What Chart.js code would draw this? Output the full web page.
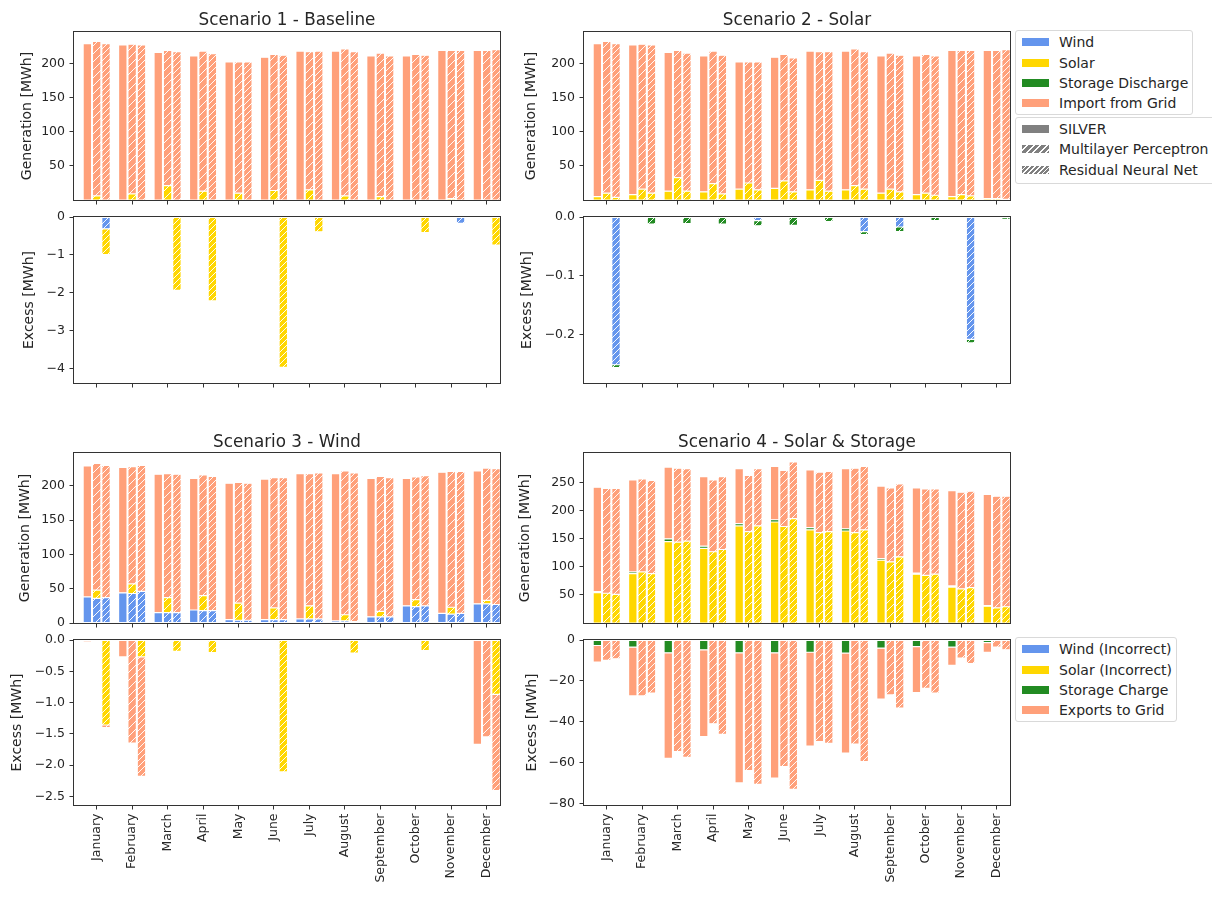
<!DOCTYPE html>
<html>
<head>
<meta charset="utf-8">
<script src="https://cdn.jsdelivr.net/npm/chart.js@4.4.1/dist/chart.umd.min.js"></script>
<style>
  html, body { margin: 0; padding: 0; background: #fff; }
  body { width: 1212px; height: 897px; position: relative; overflow: hidden;
         font-family: 'DejaVu Sans', sans-serif; color: #262626; }
  canvas { position: absolute; }
  .title { position: absolute; width: 426px; text-align: center; font-size: 16.8px; line-height: 20px; }
  .legend { position: absolute; border: 1px solid #d9d9d9; border-radius: 3px;
            background: rgba(255,255,255,0.85); box-sizing: border-box; }
  .item { position: absolute; left: 0; height: 20px; width: 100%; }
  .sw { position: absolute; left: 6px; top: 6px; width: 27px; height: 8px; }
  .lab { position: absolute; left: 43px; top: 0; line-height: 20px; font-size: 14px; white-space: nowrap; }
</style>
</head>
<body>
<script>
// ---- data ----
const months = ['January', 'February', 'March', 'April', 'May', 'June',
  'July', 'August', 'September', 'October', 'November', 'December'];
const titles = ['Scenario 1 - Baseline', 'Scenario 2 - Solar', 'Scenario 3 - Wind', 'Scenario 4 - Solar & Storage'];
const genLegend = ['Wind', 'Solar', 'Storage Discharge', 'Import from Grid'];
const excessLegend = ['Wind (Incorrect)', 'Solar (Incorrect)', 'Storage Charge', 'Exports to Grid'];
const modelLegend = ['SILVER', 'Multilayer Perceptron', 'Residual Neural Net'];

const genTicks = [50, 100, 150, 200];
const genTicks3 = [0, 50, 100, 150, 200];
const genTicks4 = [50, 100, 150, 200, 250];
const exTicks1 = [0, -1, -2, -3, -4];
const exTicks2 = [0, -0.1, -0.2];
const exTicks3 = [0, -0.5, -1, -1.5, -2, -2.5];
const exTicks4 = [0, -20, -40, -60, -80];

// Scenario 1 - Baseline (MWh)
const s1SilverImport = [230, 228, 217, 212, 203, 210, 219, 219, 212, 212, 220, 220];
const s1MlpSolar = [6, 9, 21, 13, 10, 14, 15, 6, 5, 0, 2, 0];
const s1MlpImport = [227, 220, 199, 206, 193, 200, 203, 216, 211, 214, 218, 220];
const s1ResImport = [230, 228, 218, 215, 203, 213, 219, 218, 212, 213, 220, 221];
const s1ResWindEx = [-0.31, 0, 0, 0, 0, 0, 0, 0, 0, 0, -0.17, 0];
const s1ResSolarEx = [-0.68, 0, -1.93, -2.21, -0.02, -3.96, -0.39, 0, 0, -0.41, 0, -0.74];

// Scenario 2 - Solar
const s2SilverSolar = [5, 8, 13, 12, 16, 17, 15, 15, 10, 8, 5, 2];
const s2SilverImport = [225, 220, 204, 200, 187, 193, 204, 204, 202, 204, 215, 218];
const s2MlpSolar = [10, 16, 33, 24, 25, 28, 29, 21, 16, 10, 8, 2];
const s2MlpImport = [223, 213, 187, 195, 178, 186, 189, 201, 200, 204, 212, 218];
const s2ResSolar = [4, 10, 13, 9, 15, 12, 13, 16, 12, 7, 6, 1];
const s2ResImport = [226, 218, 203, 204, 188, 197, 205, 202, 201, 205, 214, 220];
const s2ResWindEx = [-0.251, 0, 0, 0, -0.006, 0, 0, -0.025, -0.017, 0, -0.208, 0];
const s2ResStorageEx = [-0.005, -0.012, -0.011, -0.012, -0.009, -0.014, -0.008, -0.005, -0.008, -0.006, -0.006, -0.004];

// Scenario 3 - Wind
const s3SilverWind = [38, 44, 15, 19, 5, 5, 6, 3, 9, 25, 14, 28];
const s3SilverImport = [191, 183, 202, 192, 199, 205, 212, 215, 202, 186, 206, 194];
const s3MlpWind = [36, 43, 15, 18, 4, 5, 6, 3, 9, 24, 13, 28];
const s3MlpSolar = [12, 14, 22, 22, 25, 17, 19, 9, 8, 10, 10, 5];
const s3MlpImport = [185, 171, 181, 176, 176, 190, 193, 210, 197, 179, 198, 193];
const s3ResWind = [37, 46, 15, 18, 4, 5, 6, 2, 9, 25, 14, 27];
const s3ResImport = [193, 184, 202, 196, 200, 207, 213, 217, 203, 190, 207, 198];
const s3SilverExport = [-0.03, -0.27, 0, 0, 0, 0, 0, 0, 0, 0, 0, -1.67];
const s3MlpExport = [0, -1.65, 0, 0, 0, 0, 0, 0, 0, 0, 0, -1.55];
const s3ResSolarEx = [-1.36, -0.27, -0.18, -0.2, -0.02, -2.11, 0, -0.21, 0, -0.17, 0, -0.87];
const s3ResExport = [-0.04, -1.91, 0, 0, 0, 0, 0, 0, 0, 0, 0, -1.54];

// Scenario 4 - Solar & Storage
const s4SilverSolar = [54, 88, 145, 133, 173, 180, 166, 164, 112, 87, 64, 30];
const s4SilverStorage = [2, 3, 5, 4, 4, 4, 4, 4, 3, 2, 2, 1];
const s4SilverImport = [186, 164, 128, 124, 98, 95, 103, 107, 129, 152, 170, 198];
const s4MlpSolar = [53, 91, 144, 127, 163, 172, 161, 161, 109, 85, 61, 27];
const s4MlpImport = [187, 166, 132, 128, 100, 100, 108, 115, 132, 154, 172, 199];
const s4ResSolar = [51, 88, 146, 131, 173, 186, 163, 166, 118, 87, 63, 29];
const s4ResImport = [189, 166, 129, 130, 102, 101, 107, 113, 130, 152, 172, 197];
const s4SilverStorageEx = [-2.7, -3.5, -6.3, -4.8, -6.3, -6.3, -6, -6.4, -4, -3.2, -3.5, -1.3];
const s4SilverExport = [-8.1, -23.9, -51.7, -42.5, -63.7, -61.3, -45.9, -49, -25, -22.6, -8.9, -4.7];
const s4MlpExport = [-10, -27.4, -54.7, -41, -63.9, -62, -49.8, -51, -26.9, -23.7, -8.9, -3.5];
const s4ResExport = [-9.2, -26, -57.5, -46.2, -70.7, -73.1, -50.6, -59.6, -33.3, -26, -11.6, -4.8];

// ---- styling ----
const colors = ['#6495ED', '#FFD700', '#228B22', '#FFA07A'];
const modelKeys = ['silver', 'mlp', 'res'];
const hatchStep = [0, 8, 6];
const PAD_T = 8, PAD_R = 4;
const ink = '#262626';

Chart.defaults.font.family = "'DejaVu Sans', sans-serif";
Chart.defaults.color = ink;

function hatch(ctx, color, step) {
  const c = document.createElement('canvas');
  c.width = c.height = step;
  const g = c.getContext('2d');
  g.fillStyle = color;
  g.fillRect(0, 0, step, step);
  g.strokeStyle = 'rgba(255,255,255,0.95)';
  g.lineWidth = 1;
  g.beginPath();
  g.moveTo(0, step); g.lineTo(step, 0);
  g.moveTo(-1, 1); g.lineTo(1, -1);
  g.moveTo(step - 1, step + 1); g.lineTo(step + 1, step - 1);
  g.stroke();
  return ctx.createPattern(c, 'repeat');
}

const frame = {
  id: 'frame',
  afterDraw(chart) {
    const a = chart.chartArea, ctx = chart.ctx;
    ctx.save();
    ctx.strokeStyle = '#333';
    ctx.lineWidth = 1;
    ctx.strokeRect(Math.round(a.left) - 0.5, Math.round(a.top) - 0.5,
      Math.round(a.right - a.left) + 1, Math.round(a.bottom - a.top) + 1);
    ctx.restore();
  }
};

function fmt(dec) {
  return v => (v < 0 ? '\u2212' : '') + Math.abs(v).toFixed(dec);
}

function panel(p) {
  const cv = document.createElement('canvas');
  const left = p.labelX - 8;
  const yW = p.box[0] - left;
  const plotW = p.box[2] - p.box[0];
  const plotH = p.box[3] - p.box[1];
  cv.width = yW + plotW + PAD_R;
  cv.height = PAD_T + plotH + p.xH;
  cv.style.left = left + 'px';
  cv.style.top = (p.box[1] - PAD_T) + 'px';
  document.body.appendChild(cv);
  const ctx = cv.getContext('2d');

  const datasets = [];
  p.series.forEach((parts, m) => {
    parts.forEach((vals, c) => {
      datasets.push({
        label: modelKeys[m] + '-' + c,
        stack: modelKeys[m],
        data: months.map((_, i) => ({ x: i, y: vals && vals[i] !== 0 ? vals[i] : null })),
        backgroundColor: m === 0 ? colors[c] : hatch(ctx, colors[c], hatchStep[m])
      });
    });
  });

  const tickGrid = { display: true, drawOnChartArea: false, drawTicks: true, tickLength: 4.5, color: '#333' };

  new Chart(cv, {
    type: 'bar',
    data: { datasets },
    options: {
      responsive: false,
      animation: false,
      events: [],
      layout: { padding: { top: PAD_T, right: PAD_R, left: 0, bottom: 0 } },
      plugins: { legend: { display: false }, tooltip: { enabled: false } },
      datasets: {
        bar: { categoryPercentage: 0.79, barPercentage: 0.91, borderColor: '#fff',
               borderWidth: 0.6, borderSkipped: false }
      },
      scales: {
        x: {
          type: 'linear', bounds: 'data', offset: false, min: -0.64, max: 11.375,
          afterBuildTicks: s => { s.ticks = months.map((_, i) => ({ value: i })); },
          ticks: { display: p.showMonths, autoSkip: false, minRotation: 90, maxRotation: 90,
                   padding: 4, font: { size: 12.5 }, color: ink, callback: v => months[v] },
          grid: Object.assign({ offset: false }, tickGrid),
          border: { display: false },
          afterFit: s => { s.height = p.xH; s.paddingLeft = 0; s.paddingRight = 0; }
        },
        y: {
          stacked: true, min: p.yMin, max: p.yMax,
          afterBuildTicks: s => { s.ticks = p.yTicks.map(v => ({ value: v })); },
          ticks: { padding: 4.5, font: { size: 12.5 }, color: ink, callback: fmt(p.dec) },
          title: { display: true, text: p.yTitle, font: { size: 14 }, color: ink, padding: 0 },
          grid: tickGrid,
          border: { display: false },
          afterFit: s => { s.width = yW; s.paddingTop = 0; s.paddingBottom = 0; }
        }
      }
    },
    plugins: [frame]
  });
}

const L = [74, 500], R = [584, 1010];
const rowGen1 = [32, 200], rowEx1 = [217, 383], rowGen2 = [453, 623], rowEx2 = [640, 805];
const box = (col, row) => [col[0], row[0], col[1], row[1]];
const GEN = 'Generation [MWh]', EXC = 'Excess [MWh]';

// Scenario 1
panel({ box: box(L, rowGen1), labelX: 27, xH: 6, showMonths: false, yMin: 0, yMax: 247,
  yTicks: genTicks, dec: 0, yTitle: GEN,
  series: [[null, null, null, s1SilverImport], [null, s1MlpSolar, null, s1MlpImport], [null, null, null, s1ResImport]] });
panel({ box: box(L, rowEx1), labelX: 29, xH: 6, showMonths: false, yMin: -4.37, yMax: 0,
  yTicks: exTicks1, dec: 0, yTitle: EXC,
  series: [[null, null, null, null], [null, null, null, null], [s1ResWindEx, s1ResSolarEx, null, null]] });

// Scenario 2
panel({ box: box(R, rowGen1), labelX: 531, xH: 6, showMonths: false, yMin: 0, yMax: 247,
  yTicks: genTicks, dec: 0, yTitle: GEN,
  series: [[null, s2SilverSolar, null, s2SilverImport], [null, s2MlpSolar, null, s2MlpImport], [null, s2ResSolar, null, s2ResImport]] });
panel({ box: box(R, rowEx1), labelX: 527, xH: 6, showMonths: false, yMin: -0.282, yMax: 0,
  yTicks: exTicks2, dec: 1, yTitle: EXC,
  series: [[null, null, null, null], [null, null, null, null], [s2ResWindEx, null, s2ResStorageEx, null]] });

// Scenario 3
panel({ box: box(L, rowGen2), labelX: 25, xH: 6, showMonths: false, yMin: 0, yMax: 248,
  yTicks: genTicks3, dec: 0, yTitle: GEN,
  series: [[s3SilverWind, null, null, s3SilverImport], [s3MlpWind, s3MlpSolar, null, s3MlpImport], [s3ResWind, null, null, s3ResImport]] });
panel({ box: box(L, rowEx2), labelX: 17, xH: 90, showMonths: true, yMin: -2.64, yMax: 0,
  yTicks: exTicks3, dec: 1, yTitle: EXC,
  series: [[null, null, null, s3SilverExport], [null, null, null, s3MlpExport], [null, s3ResSolarEx, null, s3ResExport]] });

// Scenario 4
panel({ box: box(R, rowGen2), labelX: 525, xH: 6, showMonths: false, yMin: 0, yMax: 303,
  yTicks: genTicks4, dec: 0, yTitle: GEN,
  series: [[null, s4SilverSolar, s4SilverStorage, s4SilverImport], [null, s4MlpSolar, null, s4MlpImport], [null, s4ResSolar, null, s4ResImport]] });
panel({ box: box(R, rowEx2), labelX: 532, xH: 90, showMonths: true, yMin: -80.8, yMax: 0,
  yTicks: exTicks4, dec: 0, yTitle: EXC,
  series: [[null, null, s4SilverStorageEx, s4SilverExport], [null, null, null, s4MlpExport], [null, null, null, s4ResExport]] });

// ---- titles ----
[[L, 9], [R, 9], [L, 431], [R, 431]].forEach(([col, top], i) => {
  const d = document.createElement('div');
  d.className = 'title';
  d.style.left = col[0] + 'px';
  d.style.top = top + 'px';
  d.textContent = titles[i];
  document.body.appendChild(d);
});

// ---- legends ----
function legend(x, y, w, h, centers, labels, swatch) {
  const box = document.createElement('div');
  box.className = 'legend';
  Object.assign(box.style, { left: x + 'px', top: y + 'px', width: w + 'px', height: h + 'px' });
  labels.forEach((t, i) => {
    const it = document.createElement('div');
    it.className = 'item';
    it.style.top = (centers[i] - 10) + 'px';
    const sw = document.createElement('div');
    sw.className = 'sw';
    sw.style.background = swatch(i);
    const lb = document.createElement('div');
    lb.className = 'lab';
    lb.textContent = t;
    it.appendChild(sw); it.appendChild(lb);
    box.appendChild(it);
  });
  document.body.appendChild(box);
}
const modelSwatch = i => i === 0 ? '#808080'
  : 'repeating-linear-gradient(135deg, #808080 0px, #808080 ' + (i === 1 ? 3.4 : 2.2) + 'px, #fff ' +
    (i === 1 ? 3.4 : 2.2) + 'px, #fff ' + (i === 1 ? 4.6 : 3.4) + 'px)';
legend(1015, 30, 178, 85, [11, 32, 52, 72], genLegend, i => colors[i]);
legend(1015, 117, 215, 67, [11, 31, 52], modelLegend, modelSwatch);
legend(1015, 637, 162, 85, [11, 32, 52, 72], excessLegend, i => colors[i]);
</script>
</body>
</html>
